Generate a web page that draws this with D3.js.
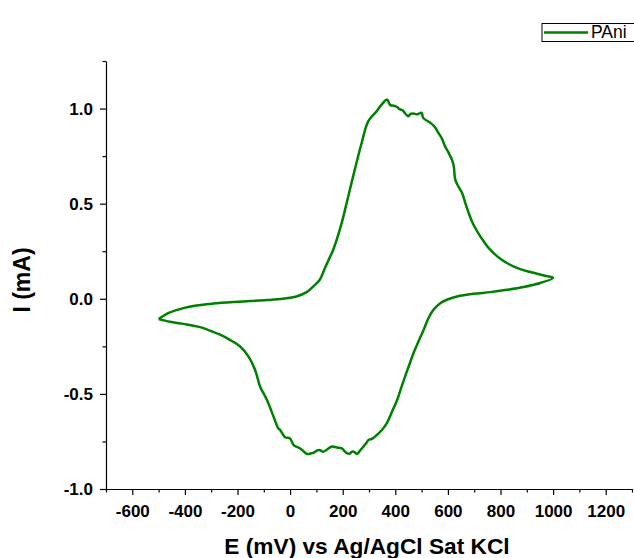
<!DOCTYPE html>
<html>
<head>
<meta charset="utf-8">
<script src="https://cdn.jsdelivr.net/npm/d3@7"></script>
<style>
    body { margin: 0; background: #fff; }
    text { font-family: "Liberation Sans", Arial, sans-serif; }
    .tickLabel { font-weight: bold; font-size: 17px; }
    .axisTitle { font-weight: bold; font-size: 22.7px; }
</style>
</head>
<body>
<div id="cv-chart"></div>
<script>
// cyclic voltammogram (E in mV, I in mA), in scan order
const potential = [
    -500, -457, -406, -357, -293, -216, -153, -89, -27, 24, 63, 88, 113, 132, 150, 164,
    196, 221, 246, 272, 297, 329, 348, 369, 376, 381, 395, 407, 416, 429, 436, 443,
    450, 458, 468, 482, 500, 506, 533, 549, 564, 578, 589, 602, 615, 622, 628, 640,
    654, 667, 679, 692, 704, 720, 736, 753, 774, 799, 824, 849, 875, 905, 939, 973,
    1000,
    951, 888, 824, 761, 697, 635, 596, 571, 545, 525, 508, 488, 469, 453, 437, 422,
    407, 387, 368, 349, 330, 313, 298, 289, 279, 265, 254, 244, 235, 226, 216, 206,
    197, 178, 159, 143, 126, 114, 101, 92, 82, 64, 50, 37, 24, 13, -1, -19,
    -38, -45, -63, -88, -114, -133, -158, -190, -229, -266, -305, -342, -406, -457, -500
];
const current = [
    -0.107, -0.072, -0.049, -0.035, -0.025, -0.017, -0.012, -0.007, 0.000, 0.012, 0.035, 0.065, 0.100, 0.160, 0.215, 0.258,
    0.398, 0.538, 0.679, 0.819, 0.933, 0.986, 1.021, 1.047, 1.030, 1.018, 1.015, 1.008, 0.997, 0.990, 0.977, 0.966,
    0.960, 0.972, 0.974, 0.970, 0.977, 0.951, 0.925, 0.905, 0.872, 0.840, 0.802, 0.770, 0.732, 0.700, 0.626, 0.590,
    0.556, 0.500, 0.451, 0.405, 0.372, 0.335, 0.302, 0.270, 0.240, 0.210, 0.188, 0.170, 0.156, 0.143, 0.132, 0.120,
    0.110,
    0.083, 0.062, 0.047, 0.035, 0.026, 0.012, -0.005, -0.023, -0.058, -0.105, -0.163, -0.225, -0.286, -0.348, -0.409, -0.470,
    -0.532, -0.595, -0.654, -0.690, -0.716, -0.735, -0.742, -0.760, -0.777, -0.800, -0.816, -0.805, -0.804, -0.815, -0.812, -0.800,
    -0.786, -0.782, -0.777, -0.790, -0.804, -0.796, -0.798, -0.808, -0.812, -0.816, -0.800, -0.786, -0.778, -0.768, -0.733, -0.728,
    -0.689, -0.681, -0.619, -0.532, -0.462, -0.374, -0.304, -0.251, -0.216, -0.189, -0.167, -0.149, -0.132, -0.121, -0.107
];

const xTicks = [-600, -400, -200, 0, 200, 400, 600, 800, 1000, 1200];
const xMinor = [-700, -500, -300, -100, 100, 300, 500, 700, 900, 1100, 1300];
const yTicks = [-1.0, -0.5, 0.0, 0.5, 1.0];
const yMinor = [-0.75, -0.25, 0.25, 0.75, 1.25];
const seriesName = "PAni";

const width = 634, height = 558;
const margin = { top: 61, right: 2, bottom: 69, left: 106 };

let svg = d3.select("#cv-chart").append("svg")
    .attr("width", width)
    .attr("height", height);

let x = d3.scaleLinear()
    .domain([-700, 1300])
    .range([margin.left, width - margin.right]);
let y = d3.scaleLinear()
    .domain([-1.0, 1.25])
    .range([height - margin.bottom, margin.top]);

// curve
let pts = potential.map((e, i) => [e, current[i]]);
let line = d3.line()
    .x(d => x(d[0]))
    .y(d => y(d[1]))
    .curve(d3.curveCatmullRom.alpha(0.5));
svg.append("path")
    .datum(pts)
    .attr("d", line)
    .attr("fill", "none")
    .attr("stroke", "#008000")
    .attr("stroke-width", 2.5)
    .attr("stroke-linejoin", "round");

// axes (plain hyphen for negatives, like the original)
let xAxis = svg.append("g")
    .attr("transform", `translate(0, ${height - margin.bottom})`)
    .call(d3.axisBottom(x).tickValues(xTicks).tickSize(6).tickSizeOuter(0).tickFormat(d => String(d)));
svg.append("g")
    .attr("transform", `translate(0, ${height - margin.bottom})`)
    .call(d3.axisBottom(x).tickValues(xMinor).tickSize(3.5).tickSizeOuter(0).tickFormat(""))
    .select(".domain").remove();

let yAxis = svg.append("g")
    .attr("transform", `translate(${margin.left}, 0)`)
    .call(d3.axisLeft(y).tickValues(yTicks).tickSize(6).tickSizeOuter(0).tickFormat(d => d.toFixed(1)));
svg.append("g")
    .attr("transform", `translate(${margin.left}, 0)`)
    .call(d3.axisLeft(y).tickValues(yMinor).tickSize(3.5).tickSizeOuter(0).tickFormat(""))
    .select(".domain").remove();

svg.selectAll(".domain, .tick line").attr("stroke", "#000").attr("stroke-width", 1.2);

xAxis.selectAll(".tick text")
    .attr("class", "tickLabel")
    .attr("fill", "#000")
    .attr("y", 10)
    .attr("dy", "1.05em");
yAxis.selectAll(".tick text")
    .attr("class", "tickLabel")
    .attr("fill", "#000")
    .attr("x", -13);

// axis titles
svg.append("text")
    .attr("class", "axisTitle")
    .attr("x", 367)
    .attr("y", 554)
    .attr("text-anchor", "middle")
    .text("E (mV) vs Ag/AgCl Sat KCl");

svg.append("text")
    .attr("class", "axisTitle")
    .attr("transform", "rotate(-90)")
    .attr("x", -280)
    .attr("y", 29.5)
    .attr("text-anchor", "middle")
    .style("font-size", "23px")
    .text("I (mA)");

// legend
let legend = svg.append("g").attr("transform", "translate(542, 23.5)");
legend.append("rect")
    .attr("width", 100)
    .attr("height", 18)
    .attr("fill", "#fff")
    .attr("stroke", "#000")
    .attr("stroke-width", 1);
legend.append("line")
    .attr("x1", 2).attr("x2", 46)
    .attr("y1", 9).attr("y2", 9)
    .attr("stroke", "#008000")
    .attr("stroke-width", 2.5);
legend.append("text")
    .attr("x", 49)
    .attr("y", 14.5)
    .style("font-size", "17.5px")
    .text(seriesName);
</script>
</body>
</html>
